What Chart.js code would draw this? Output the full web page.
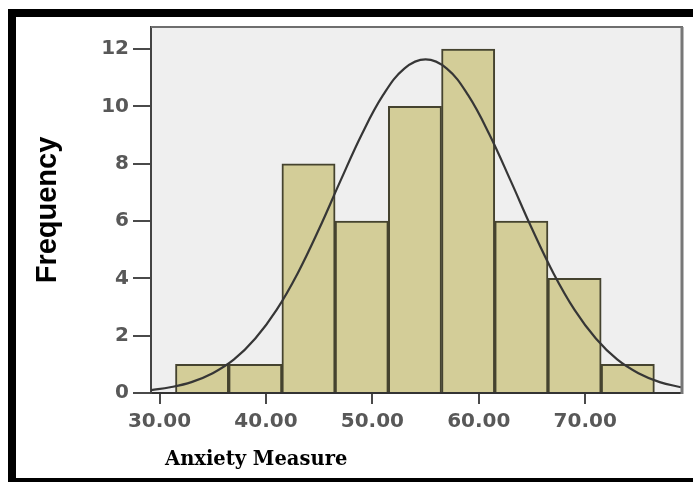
<!DOCTYPE html>
<html lang="en">
<head>
    <meta charset="UTF-8">
    <title>Anxiety Measure Histogram</title>
    <script src="https://cdn.jsdelivr.net/npm/chart.js"></script>
    <style>
        body { margin: 0; background: #ffffff; }
        #wrap { width: 693px; height: 482px; }
    </style>
</head>
<body>
    <div id="wrap">
        <canvas id="histChart" width="693" height="482"></canvas>
    </div>
    <script>
        // histogram bins (centre of each 5-point bin) and counts
        const binCentres = [34, 39, 44, 49, 54, 59, 64, 69, 74];
        const counts = [1, 1, 8, 6, 10, 12, 6, 4, 1];

        // normal curve
        const curveX = [29.2, 31, 33, 35, 37, 39, 41, 43, 45, 47, 49, 51, 53, 55,
                        57, 59, 61, 63, 65, 67, 69, 71, 73, 75, 77, 79];
        const curveY = [0.10, 0.20, 0.38, 0.69, 1.17, 1.90, 2.90, 4.19, 5.73, 7.40, 9.02, 10.39, 11.32, 11.64,
                        11.32, 10.39, 9.02, 7.40, 5.73, 4.19, 2.90, 1.90, 1.17, 0.69, 0.38, 0.20];

        const xTicks = [30, 40, 50, 60, 70];
        const yTicks = [0, 2, 4, 6, 8, 10, 12];
        const xTitle = 'Anxiety Measure';
        const yTitle = 'Frequency';

        // black page frame, grey plot background and plot border
        const framePlugin = {
            id: 'frame',
            beforeDraw(chart) {
                const c = chart.ctx;
                const a = chart.chartArea;
                c.save();
                c.fillStyle = '#000000';
                c.fillRect(8, 9, 685, 8);
                c.fillRect(8, 9, 8, 473);
                c.fillRect(8, 478, 685, 4);
                c.fillStyle = '#efefef';
                c.fillRect(a.left, a.top, a.right - a.left, a.bottom - a.top);
                c.restore();
            },
            afterDraw(chart) {
                const c = chart.ctx;
                const a = chart.chartArea;
                c.save();
                c.strokeStyle = '#6e6e6e';
                c.lineWidth = 2;
                c.beginPath();
                c.moveTo(a.left, a.top);
                c.lineTo(a.right + 2, a.top);
                c.stroke();
                c.lineWidth = 3;
                c.strokeStyle = '#777777';
                c.beginPath();
                c.moveTo(a.right + 1, a.top);
                c.lineTo(a.right + 1, a.bottom + 1);
                c.stroke();
                c.fillStyle = '#000000';
                c.font = 'bold 19.5px "DejaVu Serif"';
                c.textAlign = 'left';
                c.textBaseline = 'alphabetic';
                c.fillText(xTitle, 165, 465);
                c.restore();
            }
        };

        const ctx = document.getElementById('histChart').getContext('2d');
        const histChart = new Chart(ctx, {
            type: 'bar',
            data: {
                datasets: [{
                    type: 'line',
                    label: 'Normal',
                    data: curveX.map((x, i) => ({ x: x, y: curveY[i] })),
                    borderColor: '#363636',
                    borderWidth: 2.2,
                    tension: 0.4,
                    pointRadius: 0,
                    fill: false,
                    order: 0
                }, {
                    label: 'Frequency',
                    data: binCentres.map((x, i) => ({ x: x, y: counts[i] })),
                    backgroundColor: '#d3cd98',
                    borderColor: '#45432f',
                    borderWidth: 2,
                    barPercentage: 1,
                    categoryPercentage: 1,
                    order: 1
                }]
            },
            options: {
                responsive: false,
                animation: false,
                layout: { padding: { left: 0, right: 12, top: 27, bottom: 0 } },
                plugins: {
                    legend: { display: false },
                    tooltip: { enabled: false }
                },
                scales: {
                    x: {
                        type: 'linear',
                        min: 29.2,
                        max: 79,
                        offset: false,
                        afterFit: s => { s.height = 89; },
                        afterBuildTicks: s => { s.ticks = xTicks.map(v => ({ value: v })); },
                        ticks: {
                            color: '#585858',
                            font: { family: 'DejaVu Sans', size: 20, weight: 'bold' },
                            padding: 6,
                            maxRotation: 0,
                            callback: v => v.toFixed(2)
                        },
                        grid: {
                            offset: false,
                            drawOnChartArea: false,
                            tickLength: 11,
                            color: '#4a4a4a',
                            lineWidth: 2
                        },
                        border: { color: '#333333', width: 2 }
                    },
                    y: {
                        min: 0,
                        max: 12.77,
                        afterFit: s => { s.width = 151; },
                        afterBuildTicks: s => { s.ticks = yTicks.map(v => ({ value: v })); },
                        ticks: {
                            color: '#585858',
                            font: { family: 'DejaVu Sans', size: 20, weight: 'bold' },
                            padding: 4
                        },
                        grid: {
                            drawOnChartArea: false,
                            tickLength: 18,
                            color: '#4a4a4a',
                            lineWidth: 2
                        },
                        border: { color: '#444444', width: 2 },
                        title: {
                            display: true,
                            text: yTitle,
                            color: '#000000',
                            font: { family: 'Liberation Sans', size: 29, weight: 'bold' },
                            padding: { top: 31, bottom: 0 }
                        }
                    }
                }
            },
            plugins: [framePlugin]
        });
    </script>
</body>
</html>
